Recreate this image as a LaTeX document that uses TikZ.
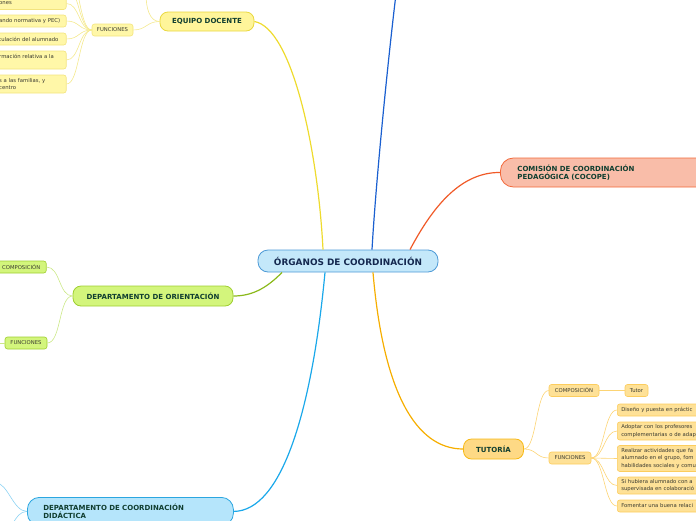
\documentclass[tikz,border=0pt]{standalone}
\usepackage{fontspec}
\setmainfont{DejaVu Sans}
\definecolor{cfill}{HTML}{C4E8FA}
\definecolor{cdraw}{HTML}{4D9AD6}
\definecolor{ctext}{HTML}{14284F}
\definecolor{dkg}{HTML}{103E30}
\definecolor{yfill}{HTML}{FFF59A}
\definecolor{ydraw}{HTML}{E9D83F}
\definecolor{yline}{HTML}{EEDB2E}
\definecolor{ysub}{HTML}{FFF7A8}
\definecolor{ysubd}{HTML}{F3E47E}
\definecolor{ythin}{HTML}{F4E98E}
\definecolor{rfill}{HTML}{F9BDA9}
\definecolor{rdraw}{HTML}{F2683A}
\definecolor{rline}{HTML}{F05A28}
\definecolor{gfill}{HTML}{D3F57C}
\definecolor{gdraw}{HTML}{9FCF30}
\definecolor{gline}{HTML}{8BB91B}
\definecolor{gthin}{HTML}{CBE886}
\definecolor{bfill}{HTML}{B5E5FB}
\definecolor{bdraw}{HTML}{2BA6E0}
\definecolor{bline}{HTML}{1AA8EA}
\definecolor{bthin}{HTML}{8DD3F3}
\definecolor{ofill}{HTML}{FED985}
\definecolor{odraw}{HTML}{F7B915}
\definecolor{oline}{HTML}{F6AE00}
\definecolor{osub}{HTML}{FEE197}
\definecolor{osubd}{HTML}{FCCD5E}
\definecolor{othin}{HTML}{FCD474}
\definecolor{dblue}{HTML}{1A5FD0}
\definecolor{txt}{HTML}{3A3A30}
\begin{document}
\begin{tikzpicture}[x=1pt,y=-1pt,
  every node/.style={font=\fontsize{5.3}{7.8}\selectfont, text=txt, inner sep=0pt},
  mline/.style={line width=1.2pt},
  sline/.style={line width=0.6pt},
  mainbox/.style={draw, line width=0.8pt, rounded corners=8pt, text=dkg,
    font=\fontsize{7}{8.5}\selectfont\bfseries},
  subbox/.style={draw, line width=0.6pt, rounded corners=2.5pt, minimum height=12},
  leafY/.style={subbox, fill=ysub, draw=ysubd, text width=65, align=left, inner xsep=2},
  leafO/.style={subbox, fill=osub, draw=osubd, text width=90, align=left, inner xsep=4, anchor=west},
]
\useasboundingbox (0,0) rectangle (696,520);
\clip (0,0) rectangle (696,520);

% central
\node[draw=cdraw, fill=cfill, line width=0.8pt, rounded corners=10pt, minimum width=180, minimum height=22,
  text=ctext, font=\fontsize{8.9}{10}\selectfont\bfseries] (c) at (348,261) {ÓRGANOS DE COORDINACIÓN};

% equipo docente
\node[mainbox, fill=yfill, draw=ydraw, minimum width=94, minimum height=19] (ed) at (207,21.5) {EQUIPO DOCENTE};
\node[subbox, fill=ysub, draw=ysubd, minimum width=41] (edf) at (112.5,30) {FUNCIONES};
\node[leafY, anchor=east] (l1) at (66.5,3.5) {ones};
\node[leafY, anchor=east] (l2) at (66.5,21) {ando normativa y PEC)};
\node[leafY, anchor=east] (l3) at (66.5,39) {tulación del alumnado};
\node[leafY, anchor=east, minimum height=18] (l4) at (66.5,60) {rmación relativa a la\\\mbox{}};
\node[leafY, anchor=east, minimum height=18] (l5) at (66.5,84) {s a las familias, y\\centro};
\coordinate (l0a) at (66,-14);
\coordinate (l0b) at (66,-32);
\coordinate (edcomp) at (146,-6);

% cocope
\node[mainbox, fill=rfill, draw=rdraw, rounded corners=13pt, anchor=west, minimum width=230, minimum height=29,
  text width=196, align=left, inner xsep=17] (cp) at (500,172.5) {COMISIÓN DE COORDINACIÓN\\PEDAGÓGICA (COCOPE)};

% orientacion
\node[mainbox, fill=gfill, draw=gdraw, minimum width=160, minimum height=20] (do) at (153,296) {DEPARTAMENTO DE ORIENTACIÓN};
\node[subbox, fill=gfill, draw=gdraw, anchor=east, minimum width=50] (doc) at (46.5,267) {COMPOSICIÓN};
\node[subbox, fill=gfill, draw=gdraw, minimum width=42] (dof) at (26,343) {FUNCIONES};
\coordinate (dofL) at (-10,343);

% didactica
\node[mainbox, fill=bfill, draw=bdraw, rounded corners=12pt, anchor=north west, minimum width=206, minimum height=28,
  text width=174, align=left, inner xsep=16] (dcd) at (27,497) {DEPARTAMENTO DE COORDINACIÓN\\DIDÁCTICA};
\coordinate (dcdA) at (-4,483);
\coordinate (dcdB) at (0,536);

% tutoria
\node[mainbox, fill=ofill, draw=odraw, minimum width=60, minimum height=20] (tu) at (493.5,449) {TUTORÍA};
\node[subbox, fill=osub, draw=osubd, minimum width=50] (tuc) at (574,390.5) {COMPOSICIÓN};
\node[subbox, fill=osub, draw=osubd, minimum width=23] (tut) at (636.5,390.5) {Tutor};
\node[subbox, fill=osub, draw=osubd, minimum width=42] (tuf) at (570,458) {FUNCIONES};
\node[leafO] (r1) at (617,410) {Diseño y puesta en práctic};
\node[leafO, minimum height=18] (r2) at (617,431) {Adoptar con los profesores\\complementarias o de adap};
\node[leafO, minimum height=26] (r3) at (617,458.5) {Realizar actividades que fa\\alumnado en el grupo, fom\\habilidades sociales y comu};
\node[leafO, minimum height=17] (r4) at (617,485.5) {Si hubiera alumnado con a\\supervisada en colaboració};
\node[leafO] (r5) at (617,506) {Fomentar una buena relaci};

\coordinate (dbtop) at (396,-6);

% main connectors
\draw[yline, mline] (ed.east) .. controls (292,28) and (318,150) .. ([xshift=-25]c.north);
\draw[dblue, mline] ([xshift=24]c.north) .. controls (376,180) and (388,60) .. (dbtop);
\draw[rline, mline] ([xshift=62]c.north) .. controls (430,212) and (458,172) .. (cp.west);
\draw[gline, mline] ([xshift=-66]c.south) .. controls (265,290) and (250,296) .. (do.east);
\draw[bline, mline] ([xshift=-23]c.south) .. controls (312,410) and (282,511) .. (dcd.east);
\draw[oline, mline] ([xshift=25]c.south) .. controls (383,390) and (415,449) .. (tu.west);

% equipo sub connectors
\draw[ythin, sline] (edf.east) .. controls +(13,0) and +(-13,0) .. (ed.west);
\draw[ythin, sline] (ed.west) .. controls +(-10,0) and +(0,14) .. (edcomp);
\foreach \n in {l0a,l0b,l1,l2,l3,l4,l5}{
  \draw[ythin, sline] (edf.west) .. controls +(-13,0) and +(13,0) .. (\n.east);
}

% orient sub connectors
\draw[gthin, sline] (do.west) .. controls +(-14,0) and +(14,0) .. (doc.east);
\draw[gthin, sline] (do.west) .. controls +(-14,0) and +(14,0) .. (dof.east);
\draw[gthin, sline] (dof.west) -- (dofL);

% didactica sub connectors
\draw[bthin, sline] (dcd.west) .. controls +(-14,0) and +(12,0) .. (dcdA);
\draw[bthin, sline] (dcd.west) .. controls +(-14,0) and +(12,0) .. (dcdB);

% tutoria sub connectors
\draw[othin, sline] (tu.east) .. controls +(13,0) and +(-13,0) .. (tuc.west);
\draw[othin, sline] (tu.east) .. controls +(13,0) and +(-13,0) .. (tuf.west);
\draw[othin, sline] (tuc.east) -- (tut.west);
\foreach \n in {r1,r2,r3,r4,r5}{
  \draw[othin, sline] (tuf.east) .. controls +(13,0) and +(-13,0) .. (\n.west);
}
\end{tikzpicture}
\end{document}
